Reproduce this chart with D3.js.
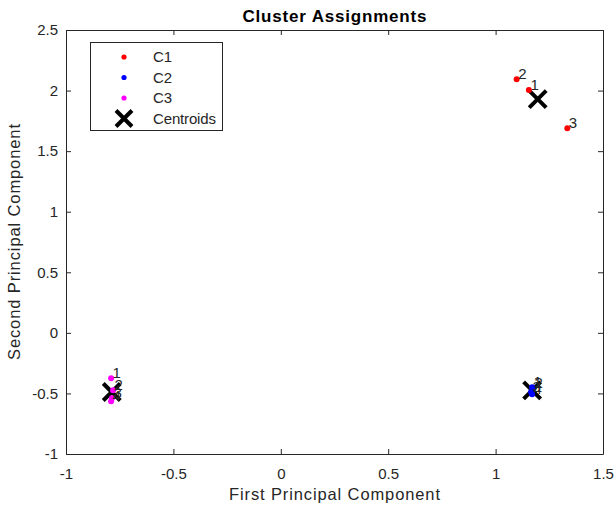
<!DOCTYPE html>
<html><head><meta charset="utf-8">
<script src="https://cdn.jsdelivr.net/npm/d3@7"></script>
<style>
body{margin:0;background:#fff;}
svg{display:block;font-family:"Liberation Sans",Arial,sans-serif;}
</style></head>
<body>
<svg id="chart" width="615" height="510"></svg>
<script>
// ---- data ----
const xTicks = [-1, -0.5, 0, 0.5, 1, 1.5];
const yTicks = [-1, -0.5, 0, 0.5, 1, 1.5, 2, 2.5];
const clusterNames = ["C1", "C2", "C3"];
const clusterColors = ["#ff0000", "#0000ff", "#ff00ff"];
const c1X = [1.155, 1.098, 1.334];
const c1Y = [2.005, 2.093, 1.688];
const c1Lab = ["1", "2", "3"];
const c2X = [1.170, 1.174, 1.165, 1.170];
const c2Y = [-0.448, -0.456, -0.489, -0.506];
const c2Lab = ["1", "2", "3", "4"];
const c3X = [-0.790, -0.781, -0.786, -0.790];
const c3Y = [-0.374, -0.473, -0.539, -0.564];
const c3Lab = ["1", "2", "3", "4"];
const centX = [1.196, 1.170, -0.787];
const centY = [1.929, -0.475, -0.488];

// ---- layout ----
const svg = d3.select("#chart");
const L = 66, R = 603, T = 30, B = 454;
const x = d3.scaleLinear().domain([-1, 1.5]).range([L, R]);
const y = d3.scaleLinear().domain([-1, 2.5]).range([B, T]);
const ink = "#262626";
const fmt = d => String(d);
const FONT = '"Liberation Sans",Arial,sans-serif';

function styleAxis(g){
  g.select(".domain").attr("stroke", ink).attr("stroke-width", 1);
  g.selectAll(".tick line").attr("stroke", ink);
  g.selectAll(".tick text").attr("fill", ink).attr("font-size", 15).attr("font-family", FONT);
}
svg.append("g").attr("transform", `translate(0,${B})`)
  .call(d3.axisBottom(x).tickValues(xTicks).tickFormat(fmt).tickSizeInner(-5).tickSizeOuter(0).tickPadding(14))
  .call(styleAxis);
svg.append("g").attr("transform", `translate(0,${T})`)
  .call(d3.axisTop(x).tickValues(xTicks).tickFormat("").tickSizeInner(-5).tickSizeOuter(0))
  .call(styleAxis);
svg.append("g").attr("transform", `translate(${L},0)`)
  .call(d3.axisLeft(y).tickValues(yTicks).tickFormat(fmt).tickSizeInner(-5).tickSizeOuter(0).tickPadding(8))
  .call(styleAxis);
svg.append("g").attr("transform", `translate(${R},0)`)
  .call(d3.axisRight(y).tickValues(yTicks).tickFormat("").tickSizeInner(-5).tickSizeOuter(0))
  .call(styleAxis);

// titles
svg.append("text").attr("x", (L + R) / 2).attr("y", 21.5).attr("text-anchor", "middle")
  .attr("font-weight", "bold").attr("font-size", 17).attr("fill", "#000")
  .attr("textLength", 184).attr("lengthAdjust", "spacing").text("Cluster Assignments");
svg.append("text").attr("x", (L + R) / 2).attr("y", 500).attr("text-anchor", "middle")
  .attr("font-size", 16.5).attr("fill", ink)
  .attr("textLength", 211).attr("lengthAdjust", "spacing").text("First Principal Component");
svg.append("text").attr("transform", `translate(19.5,${(T + B) / 2}) rotate(-90)`).attr("text-anchor", "middle")
  .attr("font-size", 16.5).attr("fill", ink)
  .attr("textLength", 236).attr("lengthAdjust", "spacing").text("Second Principal Component");

// markers
function xMark(g, cx, cy, h){
  g.append("path").attr("d", `M${cx-h},${cy-h}L${cx+h},${cy+h}M${cx-h},${cy+h}L${cx+h},${cy-h}`)
    .attr("stroke", "#000").attr("stroke-width", 4).attr("fill", "none");
}
const plot = svg.append("g");
centX.forEach((cx, i) => xMark(plot, x(cx), y(centY[i]), 8.5));

const clusters = [
  {xs: c1X, ys: c1Y, labs: c1Lab, color: clusterColors[0]},
  {xs: c2X, ys: c2Y, labs: c2Lab, color: clusterColors[1]},
  {xs: c3X, ys: c3Y, labs: c3Lab, color: clusterColors[2]}
];
clusters.forEach(c => {
  plot.selectAll(null).data(c.xs.map((v, i) => [v, c.ys[i]])).enter().append("circle")
    .attr("cx", d => x(d[0])).attr("cy", d => y(d[1])).attr("r", 3).attr("fill", c.color);
});
clusters.forEach(c => {
  plot.selectAll(null).data(c.xs.map((v, i) => [v, c.ys[i], c.labs[i]])).enter().append("text")
    .attr("x", d => x(d[0]) + 1.5).attr("y", d => y(d[1])).attr("font-size", 15).attr("fill", ink)
    .attr("font-family", FONT).text(d => d[2]);
});

// legend
const lg = svg.append("g");
lg.append("rect").attr("x", 90.5).attr("y", 42.5).attr("width", 132).attr("height", 88)
  .attr("fill", "#fff").attr("stroke", ink).attr("stroke-width", 1);
const legY = [57, 77.5, 98];
clusterNames.forEach((n, i) => {
  lg.append("circle").attr("cx", 124).attr("cy", legY[i]).attr("r", 2.6).attr("fill", clusterColors[i]);
  lg.append("text").attr("x", 153).attr("y", legY[i] + 5.4).attr("font-size", 15).attr("fill", ink).text(n);
});
xMark(lg, 124, 118.5, 8);
lg.append("text").attr("x", 153).attr("y", 119 + 5.4).attr("font-size", 15).attr("fill", ink)
  .attr("textLength", 63).attr("lengthAdjust", "spacing").text("Centroids");
</script>
</body></html>
